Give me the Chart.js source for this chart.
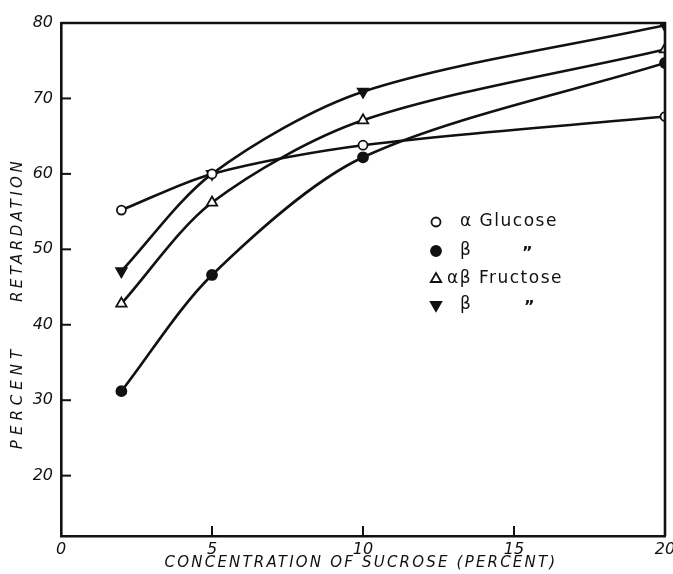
<!DOCTYPE html>
<html><head><meta charset="utf-8">
<script src="https://cdn.jsdelivr.net/npm/chart.js@4"></script>
<style>html,body{margin:0;padding:0;background:#fff}</style>
</head><body>
<canvas id="c" width="673" height="574"></canvas>
<script>
const concentrations = [2, 5, 10, 20];
const alphaGlucose = [55.2, 60.0, 63.8, 67.6];
const betaGlucose = [31.2, 46.6, 62.2, 74.7];
const alphaBetaFructose = [42.8, 56.2, 67.1, 76.5];
const betaFructose = [47.1, 60.0, 70.9, 79.7];
const xTickValues = [0, 5, 10, 15, 20];
const yTickValues = [20, 30, 40, 50, 60, 70, 80];
const xTitle = 'CONCENTRATION OF SUCROSE (PERCENT)';
const yTitleLower = 'PERCENT';
const yTitleUpper = 'RETARDATION';
const legendLabels = ['α Glucose', 'β', 'αβ Fructose', 'β'];
const dittoMark = '”';

const toPts = ys => concentrations.map((x, i) => ({x: x, y: ys[i]}));
const INK = '#111';

const mk = (label, ys, style, fill, rot, r) => ({
  label, data: toPts(ys), borderColor: INK, borderWidth: 2.6,
  pointStyle: style, pointRotation: rot, pointRadius: r, pointHoverRadius: r,
  pointBackgroundColor: fill, pointBorderColor: INK, pointBorderWidth: 1.8,
  tension: 0.3, fill: false
});

const datasets = [
  mk(legendLabels[0], alphaGlucose, 'circle', '#fff', 0, 4.5),
  mk(legendLabels[1], betaGlucose, 'circle', INK, 0, 5),
  mk(legendLabels[2], alphaBetaFructose, 'triangle', '#fff', 0, 6),
  mk(legendLabels[3], betaFructose, 'triangle', INK, 180, 6)
];

const deco = {
  id: 'deco',
  afterDraw(chart) {
    const ctx = chart.ctx, a = chart.chartArea;
    const xs = chart.scales.x, ys = chart.scales.y;
    ctx.save();
    ctx.strokeStyle = INK; ctx.lineWidth = 2.6;
    ctx.beginPath();
    ctx.moveTo(a.left, a.top); ctx.lineTo(a.right, a.top); ctx.lineTo(a.right, a.bottom);
    ctx.stroke();
    ctx.lineWidth = 2;
    yTickValues.forEach(v => {
      const p = ys.getPixelForValue(v);
      ctx.beginPath(); ctx.moveTo(a.left, p); ctx.lineTo(a.left + 10, p); ctx.stroke();
    });
    xTickValues.slice(1, -1).forEach(v => {
      const p = xs.getPixelForValue(v);
      ctx.beginPath(); ctx.moveTo(p, a.bottom); ctx.lineTo(p, a.bottom - 10); ctx.stroke();
    });
    // titles
    ctx.fillStyle = INK;
    ctx.font = 'italic 15px "DejaVu Sans"';
    ctx.textAlign = 'center'; ctx.textBaseline = 'middle';
    ctx.letterSpacing = '2.2px';
    ctx.fillText(xTitle, 361, 563);
    ctx.letterSpacing = '5px';
    ctx.save(); ctx.translate(18, 397); ctx.rotate(-Math.PI / 2);
    ctx.fillText(yTitleLower, 0, 0); ctx.restore();
    ctx.letterSpacing = '3.5px';
    ctx.save(); ctx.translate(18, 230); ctx.rotate(-Math.PI / 2);
    ctx.fillText(yTitleUpper, 0, 0); ctx.restore();
    // legend
    const rows = [222, 251, 279, 305];
    const mx = 436;
    datasets.forEach((d, i) => {
      ctx.lineWidth = 1.8;
      ctx.fillStyle = d.pointBackgroundColor; ctx.strokeStyle = INK;
      Chart.helpers.drawPoint(ctx, {pointStyle: d.pointStyle, rotation: d.pointRotation,
        radius: d.pointRadius, borderWidth: 1.8}, mx, rows[i]);
    });
    ctx.fillStyle = INK;
    ctx.textAlign = 'left'; ctx.letterSpacing = '1.5px';
    ctx.font = '17px "DejaVu Sans"';
    ctx.fillText(legendLabels[0], 460, rows[0]);
    ctx.fillText(legendLabels[1], 460, rows[1]);
    ctx.fillText(legendLabels[2], 447, rows[2]);
    ctx.fillText(legendLabels[3], 460, rows[3]);
    ctx.font = 'bold 16px "DejaVu Sans"';
    ctx.fillText(dittoMark, 522, rows[1] + 3);
    ctx.fillText(dittoMark, 524, rows[3] + 3);
    ctx.restore();
  }
};

new Chart(document.getElementById('c'), {
  type: 'line',
  data: { datasets },
  options: {
    responsive: false, animation: false,
    layout: { autoPadding: false, padding: { top: 23, right: 8, left: 0, bottom: 0 } },
    plugins: { legend: { display: false }, tooltip: { enabled: false } },
    scales: {
      x: {
        type: 'linear', min: 0, max: 20,
        afterBuildTicks: s => { s.ticks = xTickValues.map(v => ({value: v})); },
        afterFit: s => { s.height = 38; s.paddingLeft = 0; s.paddingRight = 0; },
        grid: { display: false, drawTicks: false },
        border: { display: true, color: INK, width: 2.6 },
        ticks: { color: INK, padding: 4, maxRotation: 0, autoSkip: false,
          font: { family: 'DejaVu Sans', style: 'italic', size: 16 } }
      },
      y: {
        min: 12, max: 80,
        afterBuildTicks: s => { s.ticks = yTickValues.map(v => ({value: v})); },
        afterFit: s => { s.width = 61; s.paddingTop = 0; s.paddingBottom = 0; },
        grid: { display: false, drawTicks: false },
        border: { display: true, color: INK, width: 2.6 },
        ticks: { color: INK, padding: 8,
          font: { family: 'DejaVu Sans', style: 'italic', size: 16 } }
      }
    }
  },
  plugins: [deco]
});
</script>
</body></html>
